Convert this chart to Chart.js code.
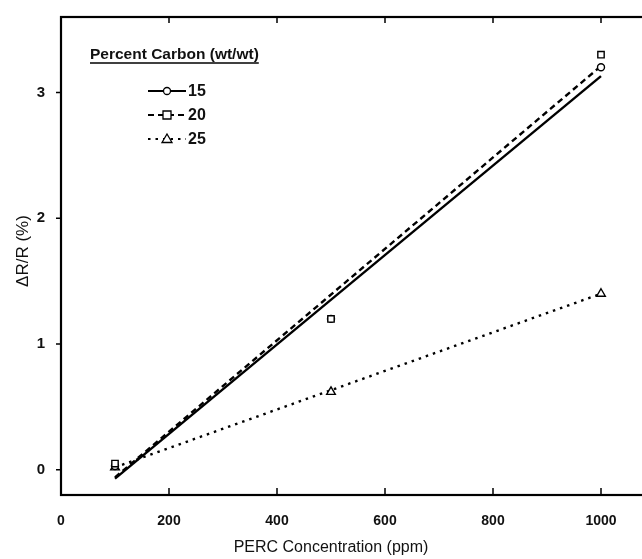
<!DOCTYPE html>
<html>
<head>
<meta charset="utf-8">
<script src="https://cdn.jsdelivr.net/npm/chart.js@4.4.1/dist/chart.umd.min.js"></script>
<style>
  html, body { margin: 0; padding: 0; background: #fff; overflow: hidden; }
  #chart { display: block; }
</style>
</head>
<body>
<canvas id="chart" width="662" height="559"></canvas>
<script>
// data
const concentrations = [100, 500, 1000];
const carbon15 = [0.03, 1.2, 3.2];
const carbon20 = [0.05, 1.2, 3.3];
const carbon25 = [0.02, 0.62, 1.4];

// fitted lines, ends
const fitRange = [100, 1000];
const fit15 = [-0.07, 3.13];
const fit20 = [-0.06, 3.21];
const fit25 = [0.02, 1.40];

const xTicks = [0, 200, 400, 600, 800, 1000];
const yTicks = [0, 1, 2, 3];

const legendTitle = 'Percent Carbon (wt/wt)';
const seriesLabels = ['15', '20', '25'];

const FONT = '"Liberation Sans", Arial, sans-serif';

function pts(xs, ys) {
    return xs.map((x, i) => ({ x: x, y: ys[i] }));
}

const styles = [
    { dash: [], marker: 'circle' },
    { dash: [6, 4], marker: 'rect' },
    { dash: [2.5, 5], marker: 'triangle' }
];

// frame, inward ticks, axis titles and the legend box
const decorPlugin = {
    id: 'decor',
    afterDraw(chart) {
        const ctx = chart.ctx;
        const a = chart.chartArea;
        const xs = chart.scales.x;
        const ys = chart.scales.y;
        ctx.save();
        ctx.strokeStyle = '#000';
        ctx.lineWidth = 2.2;
        ctx.strokeRect(a.left, a.top, a.right - a.left, a.bottom - a.top);

        ctx.lineWidth = 1.5;
        ctx.beginPath();
        xTicks.forEach(v => {
            const px = xs.getPixelForValue(v);
            if (v === 0) return;
            ctx.moveTo(px, a.bottom);
            ctx.lineTo(px, a.bottom - 7);
            ctx.moveTo(px, a.top);
            ctx.lineTo(px, a.top + 6);
        });
        yTicks.forEach(v => {
            const py = ys.getPixelForValue(v);
            ctx.moveTo(a.left, py);
            ctx.lineTo(a.left - 5, py);
        });
        ctx.stroke();

        // axis titles
        ctx.fillStyle = '#111';
        ctx.font = '16px ' + FONT;
        ctx.textAlign = 'center';
        ctx.textBaseline = 'middle';
        ctx.fillText('PERC Concentration (ppm)', xs.getPixelForValue(500), 548);
        ctx.save();
        ctx.translate(23, 251);
        ctx.rotate(-Math.PI / 2);
        ctx.font = '17px ' + FONT;
        ctx.fillText('\u0394R/R (%)', 0, 0);
        ctx.restore();

        // legend
        ctx.textAlign = 'left';
        ctx.font = 'bold 15.5px ' + FONT;
        ctx.fillText(legendTitle, 90, 55);
        const w = ctx.measureText(legendTitle).width;
        ctx.lineWidth = 1.6;
        ctx.beginPath();
        ctx.moveTo(90, 63);
        ctx.lineTo(90 + w, 63);
        ctx.stroke();

        const rows = [91, 115, 139];
        seriesLabels.forEach((label, i) => {
            const y = rows[i];
            const st = styles[i];
            ctx.lineWidth = 2;
            ctx.setLineDash(st.dash);
            ctx.beginPath();
            ctx.moveTo(148, y);
            ctx.lineTo(186, y);
            ctx.stroke();
            ctx.setLineDash([]);
            ctx.lineWidth = 1.3;
            ctx.fillStyle = '#fff';
            ctx.beginPath();
            if (st.marker === 'circle') {
                ctx.arc(167, y, 3.5, 0, Math.PI * 2);
            } else if (st.marker === 'rect') {
                ctx.rect(163, y - 4, 8, 8);
            } else {
                ctx.moveTo(167, y - 5);
                ctx.lineTo(172, y + 3.5);
                ctx.lineTo(162, y + 3.5);
                ctx.closePath();
            }
            ctx.fill();
            ctx.stroke();
            ctx.fillStyle = '#111';
            ctx.font = 'bold 16px ' + FONT;
            ctx.fillText(label, 188, y + 1);
        });
        ctx.restore();
    }
};

function fitDataset(ys, dash) {
    return {
        type: 'line',
        data: pts(fitRange, ys),
        borderColor: '#000',
        borderWidth: 2.4,
        borderDash: dash,
        pointRadius: 0,
        fill: false,
        tension: 0
    };
}

function markerDataset(ys, style, radius) {
    return {
        type: 'scatter',
        data: pts(concentrations, ys),
        pointStyle: style,
        pointRadius: radius,
        pointBackgroundColor: '#fff',
        pointBorderColor: '#000',
        pointBorderWidth: 1.4,
        showLine: false
    };
}

new Chart(document.getElementById('chart'), {
    type: 'scatter',
    data: {
        datasets: [
            markerDataset(carbon20, 'rect', 4.5),
            markerDataset(carbon15, 'circle', 3.5),
            markerDataset(carbon25, 'triangle', 5),
            fitDataset(fit15, []),
            fitDataset(fit20, [6, 4]),
            fitDataset(fit25, [2.5, 5])
        ]
    },
    options: {
        responsive: false,
        animation: false,
        layout: { padding: { top: 13, right: 7, left: 0, bottom: 0 } },
        plugins: {
            legend: { display: false },
            tooltip: { enabled: false }
        },
        scales: {
            x: {
                type: 'linear',
                min: 0,
                max: 1100,
                grid: { display: false },
                border: { display: false },
                afterBuildTicks: s => { s.ticks = xTicks.map(v => ({ value: v })); },
                afterFit: s => { s.height = 64; },
                ticks: {
                    color: '#111',
                    padding: 10,
                    maxRotation: 0,
                    callback: v => String(v),
                    font: { family: FONT, size: 14, weight: 'bold' }
                }
            },
            y: {
                min: -0.2,
                max: 3.6,
                grid: { display: false },
                border: { display: false },
                afterBuildTicks: s => { s.ticks = yTicks.map(v => ({ value: v })); },
                afterFit: s => { s.width = 61; },
                ticks: {
                    color: '#111',
                    padding: 8,
                    callback: v => String(v),
                    font: { family: FONT, size: 15, weight: 'bold' }
                }
            }
        }
    },
    plugins: [decorPlugin]
});
</script>
</body>
</html>
